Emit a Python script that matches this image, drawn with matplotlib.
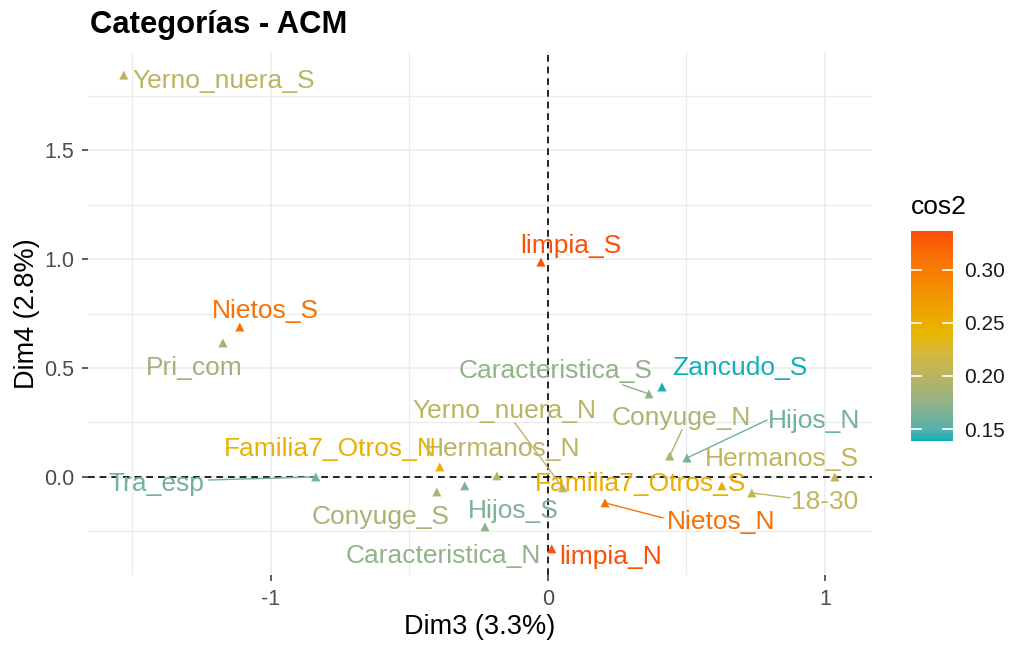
import numpy as np
import matplotlib
matplotlib.use("Agg")
import matplotlib.pyplot as plt
from matplotlib.colors import ListedColormap, Normalize, to_rgb

plt.rcParams["font.family"] = ["Liberation Sans", "DejaVu Sans"]

# --- data (MCA categories, dims 3 and 4) ---
categories = ["Yerno_nuera_S", "limpia_S", "Nietos_S", "Pri_com", "Caracteristica_S",
              "Zancudo_S", "Conyuge_N", "Hijos_N", "Hermanos_S", "Familia7_Otros_S",
              "18-30", "Nietos_N", "limpia_N", "Hermanos_N", "Yerno_nuera_N",
              "Familia7_Otros_N", "Tra_esp", "Conyuge_S", "Hijos_S", "Caracteristica_N"]
dim3 = [-1.531, -0.025, -1.112, -1.173, 0.365, 0.412, 0.440, 0.502, 1.036, 0.628,
        0.736, 0.206, 0.014, -0.184, 0.054, -0.390, -0.838, -0.401, -0.300, -0.227]
dim4 = [1.844, 0.986, 0.688, 0.615, 0.381, 0.413, 0.096, 0.087, 0.000, -0.041,
        -0.073, -0.119, -0.330, 0.005, -0.050, 0.046, 0.000, -0.069, -0.041, -0.229]
cos2 = [0.200, 0.335, 0.310, 0.185, 0.175, 0.140, 0.190, 0.160, 0.205, 0.250,
        0.205, 0.310, 0.335, 0.200, 0.200, 0.245, 0.160, 0.187, 0.165, 0.175]

# --- label layout (repel-style placement), data units ---
label_pos = [(-1.170, 1.817), (0.083, 1.060), (-1.018, 0.761), (-1.278, 0.500),
             (0.029, 0.486), (0.693, 0.500), (0.480, 0.271), (0.960, 0.257),
             (0.845, 0.083), (0.336, -0.032), (1.000, -0.115), (0.625, -0.206),
             (0.227, -0.367), (-0.162, 0.128), (-0.155, 0.303), (-0.787, 0.128),
             (-1.412, -0.032), (-0.603, -0.183), (-0.123, -0.156), (-0.379, -0.362)]
# leader segment start for labels pushed away from their point
seg_start = {"Tra_esp": (-1.224, -0.014), "Caracteristica_S": (0.271, 0.422),
             "Conyuge_N": (0.484, 0.216), "Hijos_N": (0.791, 0.261),
             "18-30": (0.874, -0.096), "Nietos_N": (0.415, -0.188),
             "Yerno_nuera_N": (-0.119, 0.248)}

GRAD = ["#00AFBB", "#E7B800", "#FC4E07"]


def _lab(rgb):
    rgb = np.asarray(rgb, float)
    lin = np.where(rgb <= 0.04045, rgb / 12.92, ((rgb + 0.055) / 1.055) ** 2.4)
    M = np.array([[0.4124, 0.3576, 0.1805], [0.2126, 0.7152, 0.0722],
                  [0.0193, 0.1192, 0.9505]])
    xyz = lin @ M.T / np.array([0.95047, 1.0, 1.08883])
    f = np.where(xyz > 0.008856, np.cbrt(xyz), 7.787 * xyz + 16 / 116)
    return np.stack([116 * f[..., 1] - 16, 500 * (f[..., 0] - f[..., 1]),
                     200 * (f[..., 1] - f[..., 2])], -1)


def _rgb(lab):
    L, a, b = lab[..., 0], lab[..., 1], lab[..., 2]
    fy = (L + 16) / 116
    f = np.stack([fy + a / 500, fy, fy - b / 200], -1)
    xyz = np.where(f ** 3 > 0.008856, f ** 3, (f - 16 / 116) / 7.787)
    xyz = xyz * np.array([0.95047, 1.0, 1.08883])
    Minv = np.array([[3.2406, -1.5372, -0.4986], [-0.9689, 1.8758, 0.0415],
                     [0.0557, -0.2040, 1.0570]])
    lin = xyz @ Minv.T
    rgb = np.where(lin <= 0.0031308, 12.92 * lin, 1.055 * np.clip(lin, 0, None) ** (1 / 2.4) - 0.055)
    return np.clip(rgb, 0, 1)


# gradient interpolated in CIELAB, like the R colour ramp
labs = _lab([to_rgb(c) for c in GRAD])
t = np.linspace(0, 1, 256)
seg = np.minimum((t * 2).astype(int), 1)
w = (t * 2 - seg)[:, None]
cmap = ListedColormap(_rgb(labs[seg] * (1 - w) + labs[seg + 1] * w))
norm = Normalize(vmin=0.1387, vmax=0.3366)

fig = plt.figure(figsize=(10.1, 6.45), dpi=100)
fig.patch.set_facecolor("white")
ax = fig.add_axes([88 / 1010, 70 / 645, 784 / 1010, 523 / 645])

ax.set_xlim(-1.66, 1.17)
ax.set_ylim(-0.45, 1.95)
ax.set_xticks([-1, 0, 1])
ax.set_xticklabels(["-1", "0", "1"])
ax.set_yticks([0.0, 0.5, 1.0, 1.5])
ax.set_yticklabels(["0.0", "0.5", "1.0", "1.5"])
ax.set_xticks([-1.5, -0.5, 0.5], minor=True)
ax.set_yticks([-0.25, 0.25, 0.75, 1.25, 1.75], minor=True)
ax.grid(which="major", color="#ebebeb", lw=1.1)
ax.grid(which="minor", color="#ebebeb", lw=0.9)
ax.set_axisbelow(True)
for s in ax.spines.values():
    s.set_visible(False)
ax.tick_params(which="major", length=4, width=1.1, color="#333333",
               labelcolor="#4d4d4d", labelsize=15.5, pad=6)
ax.tick_params(which="minor", length=0)

ax.axhline(0, color="black", ls=(0, (4, 3)), lw=1.2, zorder=2)
ax.axvline(0, color="black", ls=(0, (4, 3)), lw=1.2, zorder=2)

cols = cmap(norm(np.array(cos2)))
for name, x, y, c, (lx, ly) in zip(categories, dim3, dim4, cols, label_pos):
    if name in seg_start:
        sx, sy = seg_start[name]
        ax.plot([sx, x], [sy, y], color=c, lw=1.0, zorder=3)
    ax.text(lx, ly, name, color=c, fontsize=19, ha="center", va="center", zorder=4)
ax.scatter(dim3, dim4, c=cos2, cmap=cmap, norm=norm, marker="^", s=42,
           linewidths=0, zorder=5)

ax.set_xlabel("Dim3 (3.3%)", fontsize=19.5, labelpad=3)
ax.set_ylabel("Dim4 (2.8%)", fontsize=19.5, labelpad=3)
fig.text(90 / 1010, 1 - 25 / 645, "Categorías - ACM", fontsize=22.3, fontweight="bold",
         ha="left", va="center")

# colour bar
cax = fig.add_axes([911 / 1010, 204 / 645, 42 / 1010, 210 / 645])
sm = plt.cm.ScalarMappable(norm=norm, cmap=cmap)
cb = fig.colorbar(sm, cax=cax, ticks=[0.15, 0.20, 0.25, 0.30])
cb.outline.set_visible(False)
cb.ax.set_yticklabels(["0.15", "0.20", "0.25", "0.30"])
cax.tick_params(direction="in", color="white", length=8, width=1.2, left=True,
                right=True, labelleft=False, labelright=True,
                labelsize=15, labelcolor="#1a1a1a", pad=8)
fig.text(911 / 1010, 1 - 207 / 645, "cos2", fontsize=19, ha="left", va="center")

fig.savefig("out.png", dpi=100, facecolor="white")
